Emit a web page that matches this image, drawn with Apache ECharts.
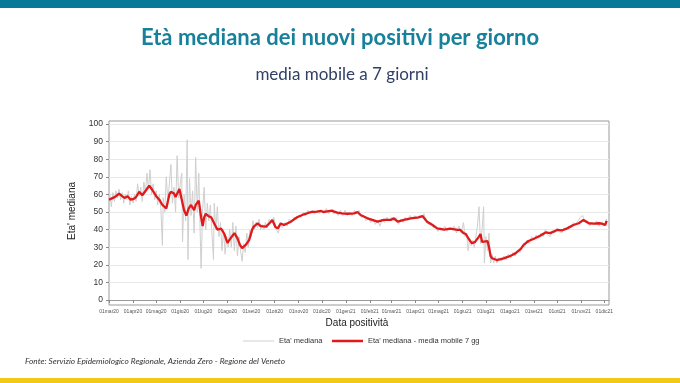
<!DOCTYPE html>
<html><head><meta charset="utf-8">
<script src="https://cdn.jsdelivr.net/npm/echarts@6/dist/echarts.min.js"></script>
<style>html,body{margin:0;padding:0;background:#fff}#c{width:680px;height:383px}</style>
</head><body><div id="c"></div>
<script>
// ---- data ----
const tickDates = ['2020-03-01','2020-04-01','2020-05-01','2020-06-01','2020-07-01','2020-08-01','2020-09-01','2020-10-01','2020-11-01','2020-12-01','2021-01-01','2021-02-01','2021-03-01','2021-04-01','2021-05-01','2021-06-01','2021-07-01','2021-08-01','2021-09-01','2021-10-01','2021-11-01','2021-12-01'];
const tickLabels = ['01mar20','01apr20','01mag20','01giu20','01lug20','01ago20','01set20','01ott20','01nov20','01dic20','01gen21','01feb21','01mar21','01apr21','01mag21','01giu21','01lug21','01ago21','01set21','01ott21','01nov21','01dic21'];
const yTicks = [0,10,20,30,40,50,60,70,80,90,100];

const redDates = ['2020-03-01','2020-03-06','2020-03-10','2020-03-14','2020-03-18','2020-03-21','2020-03-25','2020-03-29','2020-04-02','2020-04-05','2020-04-09','2020-04-13','2020-04-18','2020-04-22','2020-04-24','2020-04-26','2020-05-01','2020-05-05','2020-05-09','2020-05-14','2020-05-18','2020-05-20','2020-05-24','2020-05-26','2020-05-31','2020-06-03','2020-06-06','2020-06-09','2020-06-12','2020-06-15','2020-06-19','2020-06-21','2020-06-25','2020-06-28','2020-06-30','2020-07-02','2020-07-04','2020-07-08','2020-07-11','2020-07-15','2020-07-19','2020-07-24','2020-07-28','2020-08-01','2020-08-05','2020-08-10','2020-08-14','2020-08-17','2020-08-20','2020-08-25','2020-08-29','2020-09-02','2020-09-04','2020-09-09','2020-09-13','2020-09-20','2020-09-24','2020-09-28','2020-10-02','2020-10-05','2020-10-09','2020-10-13','2020-10-22','2020-10-30','2020-11-08','2020-11-17','2020-11-25','2020-11-30','2020-12-03','2020-12-08','2020-12-14','2020-12-17','2020-12-21','2020-12-27','2021-01-03','2021-01-12','2021-01-16','2021-01-20','2021-01-29','2021-02-11','2021-02-19','2021-02-28','2021-03-04','2021-03-09','2021-03-17','2021-03-26','2021-04-05','2021-04-10','2021-04-16','2021-04-23','2021-04-29','2021-05-08','2021-05-16','2021-05-25','2021-05-29','2021-06-02','2021-06-05','2021-06-09','2021-06-13','2021-06-17','2021-06-22','2021-06-24','2021-06-26','2021-06-28','2021-07-03','2021-07-05','2021-07-07','2021-07-09','2021-07-15','2021-07-20','2021-07-24','2021-07-30','2021-08-04','2021-08-08','2021-08-15','2021-08-19','2021-08-25','2021-09-01','2021-09-09','2021-09-16','2021-09-22','2021-10-01','2021-10-07','2021-10-14','2021-10-22','2021-10-29','2021-11-04','2021-11-11','2021-11-17','2021-11-24','2021-11-28','2021-12-02','2021-12-04'];
const redValues = [57,58,59,60.5,59,58,59,57,57.5,58.5,61.5,59.5,62.5,65,64,62.5,59,57,54,52,60,61.5,60.5,58.5,63,57,51,48,52,54,51,54,56.5,47,42,47,49,47.5,47,43.5,40,40.5,37.5,32.5,35,38,35,31.5,29.5,31.5,34,40,41.7,43.5,42,41.7,43.5,45.5,41.5,40.7,43.5,42.6,44.5,47,48.7,50,50.2,50.6,50,50.4,50.8,50.2,49.6,49.2,49,49.2,50,48.3,46.4,44.5,45.5,45.5,46.4,44.5,45.5,46.4,47,47.7,44.5,42.6,40.7,40,40.5,39.8,39.8,38,37.5,34.5,32.2,33,36,37.5,33,33,33.5,30,25,23.7,22.7,23.2,23.7,24.6,25.6,26.5,29,31.5,33.5,34.8,36.5,38.4,38,39.8,39.5,40.7,42.6,43.6,45.5,43.6,43.4,43.6,43.4,42.6,45];

const greyDates = ['2020-03-01','2020-03-02','2020-03-04','2020-03-06','2020-03-08','2020-03-10','2020-03-12','2020-03-14','2020-03-16','2020-03-18','2020-03-20','2020-03-22','2020-03-24','2020-03-26','2020-03-28','2020-03-30','2020-04-01','2020-04-03','2020-04-05','2020-04-07','2020-04-09','2020-04-11','2020-04-13','2020-04-15','2020-04-17','2020-04-19','2020-04-21','2020-04-23','2020-04-25','2020-04-27','2020-04-29','2020-05-01','2020-05-03','2020-05-05','2020-05-07','2020-05-09','2020-05-10','2020-05-12','2020-05-14','2020-05-16','2020-05-18','2020-05-20','2020-05-22','2020-05-24','2020-05-26','2020-05-28','2020-05-30','2020-06-01','2020-06-03','2020-06-04','2020-06-06','2020-06-08','2020-06-10','2020-06-11','2020-06-13','2020-06-15','2020-06-17','2020-06-19','2020-06-21','2020-06-23','2020-06-25','2020-06-27','2020-06-28','2020-06-30','2020-07-02','2020-07-04','2020-07-06','2020-07-08','2020-07-10','2020-07-12','2020-07-14','2020-07-15','2020-07-17','2020-07-19','2020-07-21','2020-07-23','2020-07-25','2020-07-27','2020-07-29','2020-07-31','2020-08-02','2020-08-04','2020-08-06','2020-08-08','2020-08-10','2020-08-12','2020-08-14','2020-08-16','2020-08-18','2020-08-20','2020-08-22','2020-08-24','2020-08-26','2020-08-28','2020-08-30','2020-09-01','2020-09-03','2020-09-05','2020-09-07','2020-09-09','2020-09-11','2020-09-13','2020-09-15','2020-09-17','2020-09-19','2020-09-21','2020-09-24','2020-09-27','2020-09-30','2020-10-03','2020-10-06','2020-10-08','2020-10-11','2020-10-14','2020-10-17','2020-10-20','2020-10-23','2020-10-26','2020-10-29','2020-11-01','2020-11-04','2020-11-07','2020-11-10','2020-11-13','2020-11-16','2020-11-19','2020-11-22','2020-11-25','2020-11-28','2020-12-01','2020-12-04','2020-12-07','2020-12-10','2020-12-13','2020-12-16','2020-12-19','2020-12-22','2020-12-25','2020-12-28','2020-12-31','2021-01-03','2021-01-06','2021-01-09','2021-01-12','2021-01-15','2021-01-18','2021-01-21','2021-01-24','2021-01-27','2021-01-30','2021-02-02','2021-02-05','2021-02-08','2021-02-11','2021-02-14','2021-02-17','2021-02-20','2021-02-23','2021-02-26','2021-03-01','2021-03-04','2021-03-07','2021-03-10','2021-03-13','2021-03-16','2021-03-19','2021-03-22','2021-03-25','2021-03-28','2021-03-31','2021-04-03','2021-04-06','2021-04-09','2021-04-12','2021-04-15','2021-04-18','2021-04-21','2021-04-24','2021-04-27','2021-04-30','2021-05-03','2021-05-06','2021-05-09','2021-05-12','2021-05-15','2021-05-18','2021-05-21','2021-05-24','2021-05-27','2021-05-30','2021-06-02','2021-06-04','2021-06-06','2021-06-08','2021-06-10','2021-06-12','2021-06-14','2021-06-16','2021-06-18','2021-06-20','2021-06-22','2021-06-24','2021-06-26','2021-06-28','2021-06-29','2021-07-01','2021-07-03','2021-07-05','2021-07-07','2021-07-09','2021-07-11','2021-07-13','2021-07-15','2021-07-18','2021-07-21','2021-07-24','2021-07-27','2021-07-30','2021-08-02','2021-08-05','2021-08-08','2021-08-11','2021-08-14','2021-08-17','2021-08-20','2021-08-23','2021-08-26','2021-08-29','2021-09-01','2021-09-04','2021-09-07','2021-09-10','2021-09-13','2021-09-16','2021-09-19','2021-09-22','2021-09-25','2021-09-28','2021-10-01','2021-10-04','2021-10-07','2021-10-10','2021-10-13','2021-10-16','2021-10-19','2021-10-22','2021-10-25','2021-10-28','2021-10-31','2021-11-03','2021-11-06','2021-11-09','2021-11-12','2021-11-15','2021-11-18','2021-11-21','2021-11-24','2021-11-27','2021-11-30','2021-12-02','2021-12-04'];
const greyValues = [55,60,53,61,56,62,58,63,57,61,55,60,57,62,54,59,55,60,56,66,59,64,56,67,61,72,63,74,60,66,57,62,54,60,52,31,58,50,70,56,66,77,55,64,50,82,58,66,72,33,60,45,91,23,69,48,62,38,81,50,72,35,18,52,64,40,55,45,54,38,23,55,40,53,36,44,28,40,26,36,30,40,30,44,28,42,25,36,28,22,32,27,38,30,40,36,45,40,44,41,46,40,43,40,44,41,46,44,47,40,38,44,41,44,42,46,44,47,46,48,47,50,48,51,49,51,49,51,49,51,50,52,49,51,49,50,48,51,48,51,48,50,48,51,49,51,47,48,45,47,44,46,43,45,42,46,44,47,45,47,45,47,43,46,44,47,45,48,46,48,46,48,47,49,45,43,44,41,42,39,41,40,42,39,41,40,42,38,42,38,44,36,38,28,35,31,34,30,36,42,53,32,40,53,21,36,28,38,21,26,21,25,21,24,22,25,23,26,24,27,25,28,27,31,30,34,32,36,34,37,35,38,36,40,37,36,39,38,41,39,38,41,40,42,41,44,43,45,47,48,44,45,42,44,43,45,42,44,42,43,46];

const seriesNames = ["Eta' mediana", "Eta' mediana - media mobile 7 gg"];

// ---- helpers ----
const START = Date.UTC(2020, 2, 1);
function dayOf(s){ const p = s.split('-').map(Number); return (Date.UTC(p[0], p[1]-1, p[2]) - START) / 86400000; }
const tickDays = tickDates.map(dayOf);
const redData = redDates.map((d,i)=>[dayOf(d), redValues[i]]);
const greyData = greyDates.map((d,i)=>[dayOf(d), greyValues[i]]);

const chart = echarts.init(document.getElementById('c'), null, {renderer:'canvas'});
const AX = 'Liberation Sans, Arial, sans-serif';
const legendText = {fontSize:7.5, color:'#333', fontFamily:AX};
chart.setOption({
  animation:false,
  backgroundColor:'#fff',
  grid:[
    {left:109, top:124, width:500, height:176, show:false},
    {left:109, top:121, width:500, height:184, show:true, borderColor:'#9a9a9a', borderWidth:1, backgroundColor:'transparent'}
  ],
  xAxis:[
    {type:'value', gridIndex:0, min:0, max:646, offset:5,
     axisLine:{show:true, lineStyle:{color:'#9a9a9a'}},
     axisTick:{show:true, length:3, customValues:tickDays, lineStyle:{color:'#888'}},
     axisLabel:{show:true, customValues:tickDays, fontSize:5, color:'#555', fontFamily:AX, margin:4,
       formatter:(v)=>{const i=tickDays.indexOf(v); return i>=0?tickLabels[i]:'';}},
     splitLine:{show:false}},
    {type:'value', gridIndex:1, min:0, max:1, show:false}
  ],
  yAxis:[
    {type:'value', gridIndex:0, min:0, max:100, interval:10,
     axisLine:{show:false},
     axisTick:{show:true, length:3, lineStyle:{color:'#888'}},
     axisLabel:{fontSize:8.5, color:'#333', fontFamily:AX, margin:6},
     splitLine:{show:true, lineStyle:{color:'#e8e8e8', width:1}}},
    {type:'value', gridIndex:1, min:0, max:1, show:false}
  ],
  legend:[
    {left:238, top:332, itemWidth:31, itemHeight:1, itemGap:6, textStyle:legendText,
     data:[{name:seriesNames[0], icon:'rect'}]},
    {left:327, top:332, itemWidth:31, itemHeight:2.5, itemGap:6, textStyle:legendText,
     data:[{name:seriesNames[1], icon:'rect'}]}
  ],
  series:[
    {name:seriesNames[0], type:'line', xAxisIndex:0, yAxisIndex:0, data:greyData, symbol:'none',
     lineStyle:{color:'#cfcfcf', width:1}, itemStyle:{color:'#cfcfcf'}, z:2},
    {name:seriesNames[1], type:'line', xAxisIndex:0, yAxisIndex:0, data:redData, symbol:'none',
     lineStyle:{color:'#e01a1a', width:2.3}, itemStyle:{color:'#e01a1a'}, z:3}
  ],
  graphic:[
    {type:'rect', shape:{x:0,y:0,width:680,height:8}, style:{fill:'#077a98'}},
    {type:'rect', shape:{x:0,y:378,width:680,height:5}, style:{fill:'#f3c916'}},
    {type:'text', x:340, y:38, style:{text:'Età mediana dei nuovi positivi per giorno', fill:'#17809b',
      font:'bold 22px Lato', textAlign:'center', textVerticalAlign:'middle'}},
    {type:'text', x:342, y:75, style:{text:'media mobile a 7 giorni', fill:'#2f4164',
      font:'17px Lato', textAlign:'center', textVerticalAlign:'middle'}},
    {type:'text', x:25, y:361, style:{text:'Fonte: Servizio Epidemiologico Regionale, Azienda Zero - Regione del Veneto', fill:'#333',
      font:'italic 8.3px Lato', textAlign:'left', textVerticalAlign:'middle'}},
    {type:'text', x:357, y:323, style:{text:'Data positività', fill:'#222',
      font:'10px "Liberation Sans", Arial', textAlign:'center', textVerticalAlign:'middle'}},
    {type:'text', x:72, y:211, rotation:Math.PI/2, style:{text:"Eta' mediana", fill:'#222',
      font:'10px "Liberation Sans", Arial', textAlign:'center', textVerticalAlign:'middle'}}
  ]
});
</script></body></html>
